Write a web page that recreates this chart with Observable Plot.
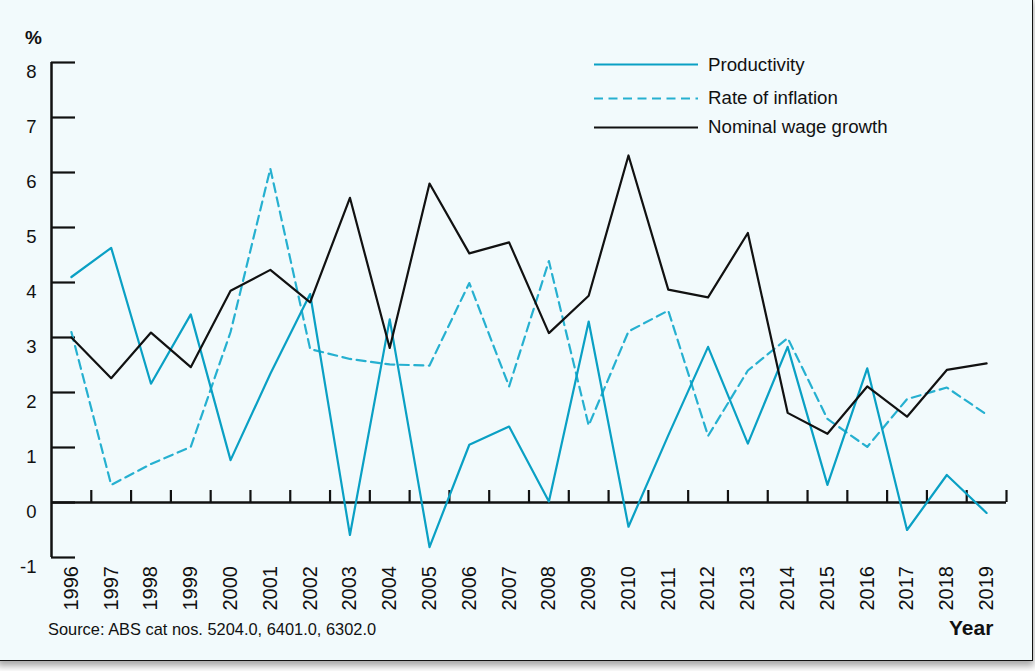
<!DOCTYPE html>
<html>
<head>
<meta charset="utf-8">
<script src="https://cdn.jsdelivr.net/npm/d3@7"></script>
<script src="https://cdn.jsdelivr.net/npm/@observablehq/plot@0.6"></script>
<style>
  html, body { margin: 0; padding: 0; background: #ffffff; }
  #wrap { position: relative; width: 1035px; height: 671px; overflow: hidden; font-family: "Liberation Sans", Arial, Helvetica, sans-serif; color: #111; }
  #panel { position: absolute; left: -4px; top: -4px; width: 1036px; height: 664px; background: #f2fafc;
           border-right: 1.6px solid #111; border-bottom: 1.6px solid #111; box-shadow: 1px 5px 7px rgba(0,0,0,0.35); }
  #chart { position: absolute; left: 0; top: 0; }
  #notes { position: absolute; left: 0; top: 0; pointer-events: none; }
</style>
</head>
<body>
<div id="wrap">
  <div id="panel"></div>
  <div id="chart"></div>
  <svg id="notes" width="1035" height="671"></svg>
</div>
<script>
// Annual percentage change, Australia
const years = [1996, 1997, 1998, 1999, 2000, 2001, 2002, 2003, 2004, 2005, 2006, 2007,
               2008, 2009, 2010, 2011, 2012, 2013, 2014, 2015, 2016, 2017, 2018, 2019];
const productivity = [4.10, 4.63, 2.16, 3.42, 0.77, 2.34, 3.79, -0.59, 3.33, -0.81, 1.05, 1.38,
                      0.02, 3.29, -0.44, 1.22, 2.83, 1.07, 2.83, 0.32, 2.44, -0.50, 0.50, -0.19];
const inflation = [3.10, 0.32, 0.70, 1.01, 3.10, 6.07, 2.79, 2.61, 2.51, 2.49, 3.99, 2.11,
                   4.39, 1.40, 3.11, 3.49, 1.21, 2.40, 2.99, 1.52, 1.01, 1.88, 2.09, 1.60];
const wageGrowth = [3.00, 2.26, 3.09, 2.46, 3.85, 4.23, 3.64, 5.54, 2.81, 5.80, 4.53, 4.73,
                    3.08, 3.76, 6.31, 3.87, 3.73, 4.90, 1.63, 1.25, 2.11, 1.56, 2.41, 2.53];
const yTicks = [-1, 0, 1, 2, 3, 4, 5, 6, 7, 8];
const seriesNames = ["Productivity", "Rate of inflation", "Nominal wage growth"];

const colors = { productivity: "#0aa0c4", inflation: "#26b0d0", wages: "#111111" };
const dash = "9,5.5";

const W = 1035, H = 661;
const mL = 51, mR = 29, mT = 62, mB = H - 557;
const x0 = years[0] - 0.5, x1 = years[years.length - 1] + 0.5;
const pxPerYear = (W - mL - mR) / (x1 - x0);
const pxPerUnit = (H - mT - mB) / (8 - (-1));

const rows = (vals) => years.map((yr, i) => ({ year: yr, value: vals[i] }));
const bounds = years.map(yr => yr + 0.5);

const chart = Plot.plot({
  width: W, height: H,
  marginLeft: mL, marginRight: mR, marginTop: mT, marginBottom: mB,
  style: { background: "transparent", fontFamily: "'Liberation Sans', Arial, Helvetica, sans-serif", overflow: "visible", color: "#111" },
  x: { axis: null, domain: [x0, x1] },
  y: { axis: null, domain: [-1, 8] },
  marks: [
    // vertical axis with inward ticks
    Plot.ruleX([x0], { y1: -1, y2: 8, stroke: "#111", strokeWidth: 2.5 }),
    Plot.ruleY(yTicks, { y: d => d, x1: x0, x2: x0 + 24 / pxPerYear, stroke: "#111", strokeWidth: 2.2 }),
    Plot.text(yTicks, { x: x0, y: d => d, text: d => String(d), textAnchor: "end", dx: -15, dy: 10,
                        fontSize: 18.5, fill: "#111" }),
    // zero line with year separators
    Plot.ruleY([0], { x1: x0, x2: x1, stroke: "#111", strokeWidth: 2.5 }),
    Plot.ruleX(bounds, { x: d => d, y1: 0, y2: 12 / pxPerUnit, stroke: "#111", strokeWidth: 2.2 }),
    Plot.text(years, { x: d => d, y: -1, text: d => String(d), rotate: -90, textAnchor: "start",
                       dy: 53, fontSize: 20, fill: "#111" }),
    // series
    Plot.line(rows(inflation), { x: "year", y: "value", stroke: colors.inflation, strokeWidth: 2.2,
                                 strokeDasharray: dash }),
    Plot.line(rows(productivity), { x: "year", y: "value", stroke: colors.productivity, strokeWidth: 2.2 }),
    Plot.line(rows(wageGrowth), { x: "year", y: "value", stroke: colors.wages, strokeWidth: 2.2 })
  ]
});
document.getElementById("chart").appendChild(chart);

// legend, unit label, axis title and source note
const notes = d3.select("#notes").style("font-family", "'Liberation Sans', Arial, Helvetica, sans-serif");
const legendItems = [
  { name: seriesNames[0], color: colors.productivity, dash: null, ly: 64.5, ty: 70.5 },
  { name: seriesNames[1], color: colors.inflation, dash: dash, ly: 98.5, ty: 103.5 },
  { name: seriesNames[2], color: colors.wages, dash: null, ly: 127.5, ty: 133 }
];
for (const it of legendItems) {
  notes.append("line").attr("x1", 594).attr("x2", 698).attr("y1", it.ly).attr("y2", it.ly)
    .attr("stroke", it.color).attr("stroke-width", 2.2).attr("stroke-dasharray", it.dash);
  notes.append("text").attr("x", 708).attr("y", it.ty).attr("font-size", 18.7).attr("fill", "#111").text(it.name);
}
notes.append("text").attr("x", 25).attr("y", 44).attr("font-size", 19).attr("font-weight", "bold").attr("fill", "#111").text("%");
notes.append("text").attr("x", 949).attr("y", 635).attr("font-size", 21).attr("font-weight", "bold").attr("fill", "#111").text("Year");
notes.append("text").attr("x", 48).attr("y", 634.5).attr("font-size", 16.4).attr("fill", "#111")
  .text("Source: ABS cat nos. 5204.0, 6401.0, 6302.0");
</script>
</body>
</html>
